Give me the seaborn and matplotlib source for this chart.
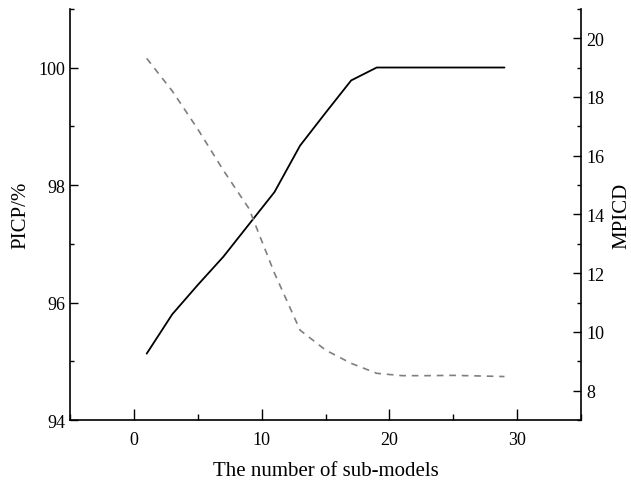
import matplotlib
matplotlib.use("Agg")
import matplotlib.pyplot as plt
import seaborn as sns
import pandas as pd
from matplotlib.ticker import MultipleLocator

n_models = [1, 3, 5, 7, 9, 11, 13, 15, 17, 19, 21, 23, 25, 27, 29]
picp = [95.13, 95.80, 96.30, 96.78, 97.33, 97.88, 98.67, 99.23, 99.78, 100.0,
        100.0, 100.0, 100.0, 100.0, 100.0]
mpicd = [19.31, 18.2, 16.9, 15.5, 14.2, 12.0, 10.06, 9.38, 8.93, 8.59,
         8.51, 8.51, 8.52, 8.50, 8.48]

df = pd.DataFrame({"n": n_models, "picp": picp, "mpicd": mpicd})

sns.set_style("white")
plt.rcParams["font.family"] = ["Liberation Serif", "DejaVu Serif"]
plt.rcParams["mathtext.fontset"] = "stix"
for k in ("text.color", "axes.labelcolor", "xtick.color", "ytick.color",
          "axes.edgecolor"):
    plt.rcParams[k] = "black"

fig = plt.figure(figsize=(6.31, 4.81), dpi=100)
ax = fig.add_axes([0.111, 0.1247, 0.810, 0.855])
ax2 = ax.twinx()

sns.lineplot(data=df, x="n", y="picp", ax=ax, color="black", linewidth=1.3)
sns.lineplot(data=df, x="n", y="mpicd", ax=ax2, color="#7f7f7f", linewidth=1.2,
             linestyle=(0, (4, 3.5)))

ax.set_xlim(-5, 35)
ax.set_ylim(94, 101)
ax2.set_ylim(7, 21)
ax.set_xticks([0, 10, 20, 30])
ax.set_yticks([94, 96, 98, 100])
ax2.set_yticks([8, 10, 12, 14, 16, 18, 20])
ax.xaxis.set_minor_locator(MultipleLocator(5))
ax.yaxis.set_minor_locator(MultipleLocator(1))
ax2.yaxis.set_minor_locator(MultipleLocator(1))

for a in (ax, ax2):
    a.spines["top"].set_visible(False)
    for s in a.spines.values():
        s.set_linewidth(1.2)
        s.set_color("black")
ax.spines["right"].set_visible(False)
ax2.spines["left"].set_visible(False)
ax2.spines["bottom"].set_visible(False)

ax.tick_params(axis="x", which="both", direction="in", bottom=True, top=False,
               labelsize=13, pad=8, colors="black")
ax.tick_params(axis="x", which="major", length=8, width=1.0)
ax.tick_params(axis="x", which="minor", length=4, width=1.0)
ax.tick_params(axis="y", which="both", direction="in", left=True, right=False,
               labelsize=13, colors="black")
ax.tick_params(axis="y", which="major", length=6, width=1.0)
ax.tick_params(axis="y", which="minor", length=3, width=1.0)
ax2.tick_params(axis="y", which="both", direction="in", right=True, left=False,
                labelsize=13, colors="black")
ax2.tick_params(axis="y", which="major", length=6, width=1.0)
ax2.tick_params(axis="y", which="minor", length=3, width=1.0)

ax.set_xlabel("The number of sub-models", fontsize=15, labelpad=9, color="black")
ax.set_ylabel("PICP/%", fontsize=15, labelpad=6, color="black")
ax2.set_ylabel("MPICD", fontsize=15, labelpad=6, color="black")

fig.savefig("out.png", dpi=100)
